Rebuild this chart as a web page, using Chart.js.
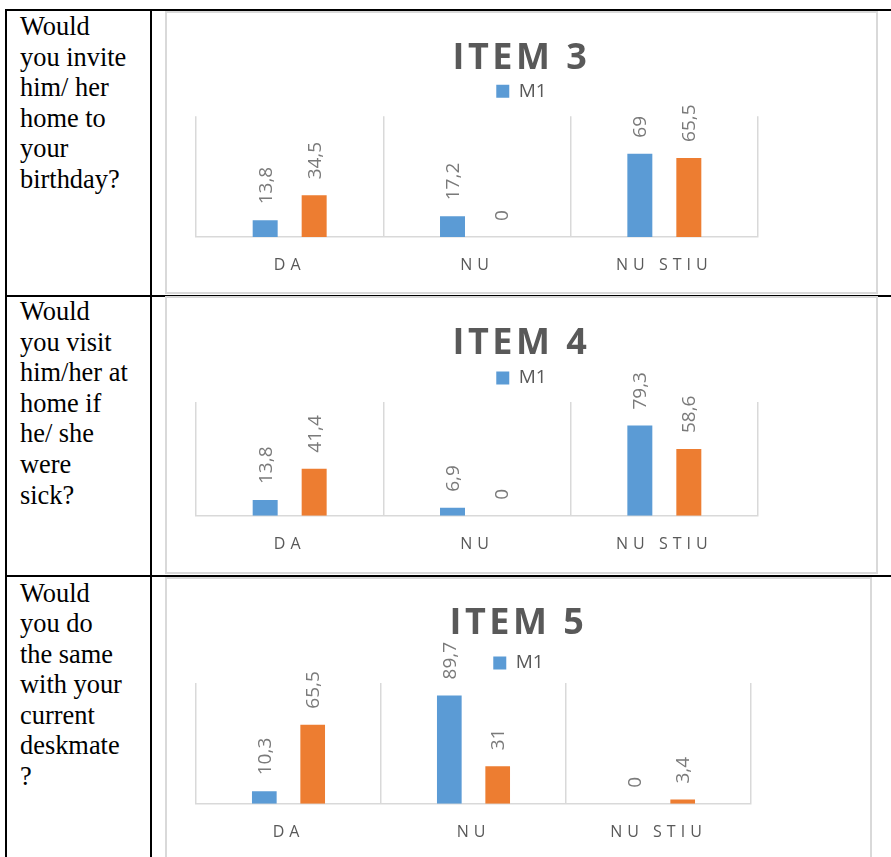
<!DOCTYPE html>
<html>
<head>
<meta charset="utf-8">
<title>ITEM 3 - ITEM 5</title>
<script src="https://cdn.jsdelivr.net/npm/chart.js@4.4.1/dist/chart.umd.min.js"></script>
<style>
  html, body { margin: 0; padding: 0; background: #fff; }
  body { width: 891px; height: 857px; overflow: hidden; position: relative; }
  .rule { position: absolute; background: #000; }
  .question {
    position: absolute; left: 20px; margin: 0;
    font-family: "Liberation Serif", "Times New Roman", serif;
    font-size: 26.4px; line-height: 30.6px; color: #000; white-space: nowrap;
  }
  .frame {
    position: absolute; left: 165px; box-sizing: border-box;
    border: 2px solid #d9d9d9; background: #fff;
  }
  .frame canvas { display: block; }
</style>
</head>
<body>
<!-- table rules -->
<div class="rule" style="left:5px;top:9px;width:886px;height:2px"></div>
<div class="rule" style="left:5px;top:295px;width:886px;height:2px"></div>
<div class="rule" style="left:5px;top:575px;width:886px;height:2px"></div>
<div class="rule" style="left:5px;top:9px;width:2px;height:848px"></div>
<div class="rule" style="left:150px;top:9px;width:2px;height:848px"></div>

<div id="rows"></div>

<script>
// ---- data ----
const categories = ['DA', 'NU', 'NU STIU'];
const itemTitles = ['ITEM 3', 'ITEM 4', 'ITEM 5'];
const legendName = 'M1';

const item3M1 = [13.8, 17.2, 69];
const item3Other = [34.5, 0, 65.5];
const item4M1 = [13.8, 6.9, 79.3];
const item4Other = [41.4, 0, 58.6];
const item5M1 = [10.3, 89.7, 0];
const item5Other = [65.5, 31, 3.4];

const question3 = ['Would', 'you invite', 'him/ her', 'home to', 'your', 'birthday?'];
const question4 = ['Would', 'you visit', 'him/her at', 'home if', 'he/ she', 'were', 'sick?'];
const question5 = ['Would', 'you do', 'the same', 'with your', 'current', 'deskmate', '?'];

// ---- layout of each table row (page / canvas pixels) ----
const rows = [
  { question: question3, textTop: 11, title: itemTitles[0], m1: item3M1, other: item3Other,
    frame: { top: 11, width: 713, height: 283 },
    canvas: { width: 709, height: 279 },
    place: { title: 45.3, legend: 78.3, areaTop: 103.3, areaBottom: 224, labels: 252, areaLeft: 29, areaRight: 591 } },
  { question: question4, textTop: 296, title: itemTitles[1], m1: item4M1, other: item4Other,
    frame: { top: 296, width: 713, height: 278 },
    canvas: { width: 709, height: 274 },
    place: { title: 45.5, legend: 80, areaTop: 104, areaBottom: 217.7, labels: 246, areaLeft: 29, areaRight: 591 } },
  { question: question5, textTop: 577.5, title: itemTitles[2], m1: item5M1, other: item5Other,
    frame: { top: 577, width: 707, height: 290 },
    canvas: { width: 703, height: 280 },
    place: { title: 45, legend: 84, areaTop: 104, areaBottom: 224.7, labels: 253, areaLeft: 29, areaRight: 584 } }
];

const GREY_TEXT = '#595959';
const VALUE_TEXT = '#7a7a7a';
const AXIS_LINE = '#d9d9d9';
const BLUE = '#5b9bd5';
const ORANGE = '#ed7d31';
const TITLE_SIZE = 36;
const LEGEND_SIZE = 19;
const TICK_SIZE = 16;

Chart.defaults.font.family = '"Open Sans", "Noto Sans", sans-serif';

// Apply canvas letter spacing while a given element draws its text.
function withSpacing(target, method, spacing) {
  if (!target || !spacing || target['_spaced_' + method]) return;
  const original = target[method];
  target[method] = function (...args) {
    const ctx = this.ctx;
    const previous = ctx.letterSpacing;
    ctx.letterSpacing = spacing;
    try { return original.apply(this, args); }
    finally { ctx.letterSpacing = previous; }
  };
  target['_spaced_' + method] = true;
}

const letterSpacingPlugin = {
  id: 'letterSpacing',
  beforeDraw(chart, args, opts) {
    withSpacing(chart.titleBlock, 'draw', opts.title);
    withSpacing(chart.scales.x, 'drawLabels', opts.ticks);
  }
};

// Vertical value labels above each bar, decimal comma.
const barValuesPlugin = {
  id: 'barValues',
  afterDatasetsDraw(chart, args, opts) {
    const ctx = chart.ctx;
    ctx.save();
    ctx.font = `${opts.size}px ${Chart.defaults.font.family}`;
    ctx.fillStyle = opts.color;
    ctx.textAlign = 'left';
    ctx.textBaseline = 'middle';
    chart.data.datasets.forEach((ds, i) => {
      const meta = chart.getDatasetMeta(i);
      meta.data.forEach((bar, j) => {
        const text = String(ds.data[j]).replace('.', ',');
        ctx.save();
        ctx.translate(bar.x + opts.shift, bar.y - opts.gap);
        ctx.rotate(-Math.PI / 2);
        ctx.fillText(text, 0, 0);
        ctx.restore();
      });
    });
    ctx.restore();
  }
};

const host = document.getElementById('rows');

rows.forEach(row => {
  // question cell
  const q = document.createElement('div');
  q.className = 'question';
  q.style.top = row.textTop + 'px';
  q.innerHTML = row.question.join('<br>');
  host.appendChild(q);

  // chart cell
  const frame = document.createElement('div');
  frame.className = 'frame';
  frame.style.top = row.frame.top + 'px';
  frame.style.width = row.frame.width + 'px';
  frame.style.height = row.frame.height + 'px';
  const canvas = document.createElement('canvas');
  canvas.width = row.canvas.width;
  canvas.height = row.canvas.height;
  frame.appendChild(canvas);
  host.appendChild(frame);

  const p = row.place;
  const W = row.canvas.width, H = row.canvas.height;
  const titleLine = TITLE_SIZE * 1.2;
  const titleBottom = p.title + titleLine / 2;
  const legendPad = Math.max(0, p.legend - titleBottom - LEGEND_SIZE / 2);
  const legendBottom = titleBottom + legendPad + LEGEND_SIZE + 10;
  const topGap = Math.max(0, p.areaTop - legendBottom);
  const tickPad = p.labels - p.areaBottom - TICK_SIZE * 1.2 / 2;

  const hidden = {
    display: true,
    grid: { display: false },
    border: { display: false },
    ticks: { display: false }
  };

  new Chart(canvas, {
    type: 'bar',
    data: {
      labels: categories,
      datasets: [
        { label: legendName, data: row.m1, backgroundColor: BLUE, borderWidth: 0,
          xAxisID: 'x', yAxisID: 'y', categoryPercentage: 0.523, barPercentage: 0.51 },
        { label: '', data: row.other, backgroundColor: ORANGE, borderWidth: 0,
          xAxisID: 'x', yAxisID: 'y', categoryPercentage: 0.523, barPercentage: 0.51 }
      ]
    },
    options: {
      responsive: false,
      animation: false,
      devicePixelRatio: 1,
      events: [],
      layout: { padding: 0 },
      plugins: {
        title: {
          display: true, text: row.title, color: GREY_TEXT,
          font: { size: TITLE_SIZE, weight: 'bold', lineHeight: 1.2 },
          padding: { top: p.title - titleLine / 2, bottom: 0 }
        },
        legend: {
          display: true, position: 'top',
          labels: {
            boxWidth: 13, boxHeight: 13, color: GREY_TEXT, padding: legendPad,
            font: { size: LEGEND_SIZE },
            filter: item => item.text !== ''
          }
        },
        tooltip: { enabled: false },
        letterSpacing: { title: '3.5px', ticks: '5px' },
        barValues: { size: 19, color: VALUE_TEXT, gap: 16, shift: 1 }
      },
      scales: {
        x: {
          type: 'category', position: 'bottom', offset: true,
          grid: { display: true, offset: true, color: AXIS_LINE, lineWidth: 1.5, drawTicks: false },
          border: { display: true, color: AXIS_LINE, width: 1.5 },
          ticks: { color: GREY_TEXT, font: { size: TICK_SIZE }, padding: tickPad, autoSkip: false, maxRotation: 0, minRotation: 0 },
          afterFit: s => { s.height = H - p.areaBottom; }
        },
        y: Object.assign({}, hidden, {
          type: 'linear', position: 'left', min: 0, max: 100,
          afterFit: s => { s.width = p.areaLeft; }
        }),
        yEdge: Object.assign({}, hidden, {
          type: 'linear', position: 'right',
          afterFit: s => { s.width = W - p.areaRight; }
        }),
        xEdge: Object.assign({}, hidden, {
          type: 'linear', position: 'top',
          afterFit: s => { s.height = topGap; }
        })
      }
    },
    plugins: [letterSpacingPlugin, barValuesPlugin]
  });
});
</script>
</body>
</html>
